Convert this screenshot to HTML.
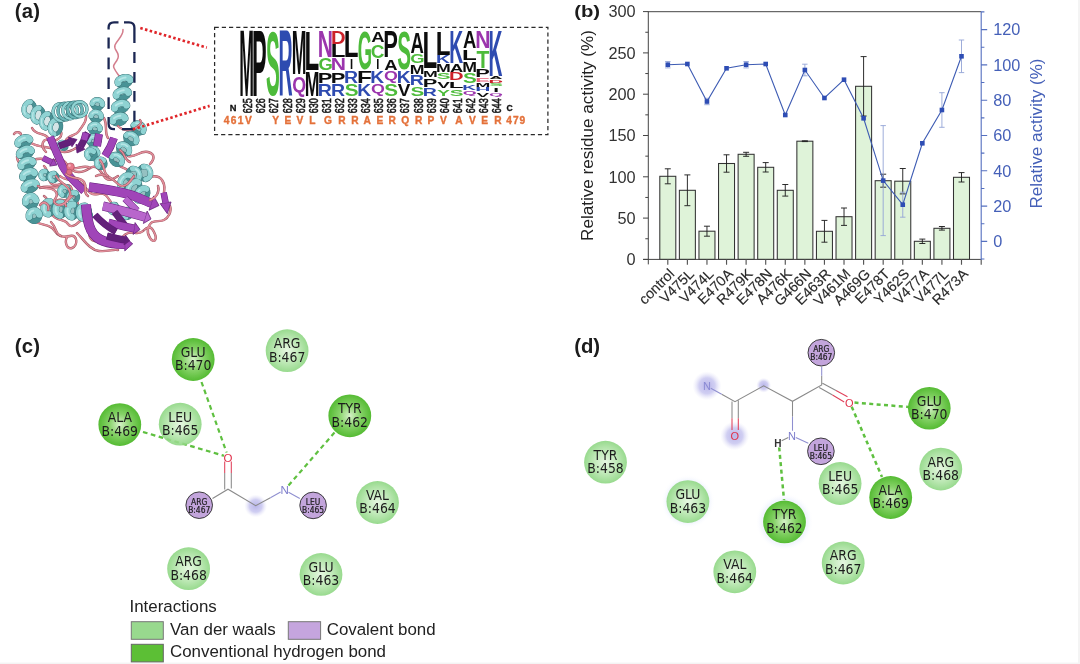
<!DOCTYPE html>
<html lang="en"><head><meta charset="utf-8"><title>Figure</title>
<style>html,body{margin:0;padding:0;background:#f4f4f4;}body{width:1080px;height:664px;overflow:hidden;position:relative}svg{position:absolute;left:0;top:0;display:block}</style></head><body>
<svg width="1080" height="664" viewBox="0 0 1080 664">
<defs>
<radialGradient id="gl"><stop offset="0" stop-color="#e6f7e1"/><stop offset="0.55" stop-color="#bfe9b7"/><stop offset="1" stop-color="#98da8e"/></radialGradient>
<radialGradient id="gd"><stop offset="0" stop-color="#d6f2c8"/><stop offset="0.5" stop-color="#86d268"/><stop offset="1" stop-color="#55bb33"/></radialGradient>
<radialGradient id="bl"><stop offset="0" stop-color="#b8b5e9" stop-opacity="1"/><stop offset="0.55" stop-color="#c8c6f0" stop-opacity="0.85"/><stop offset="1" stop-color="#e6e5f8" stop-opacity="0"/></radialGradient>
<radialGradient id="halo"><stop offset="0" stop-color="#dfe8fb" stop-opacity="0.9"/><stop offset="0.8" stop-color="#eef2fd" stop-opacity="0.7"/><stop offset="1" stop-color="#ffffff" stop-opacity="0"/></radialGradient>
</defs>
<defs><filter id="soft" x="0" y="0" width="1080" height="664" filterUnits="userSpaceOnUse"><feGaussianBlur stdDeviation="0.4"/></filter></defs><g filter="url(#soft)">
<rect x="0" y="0" width="1078" height="662.5" fill="#ffffff"/>
<g id="panel-a"><path d="M123 29.5C123.5 36 117 40 115 45S120 52 118 58S112 64 114 68S117 73 119.5 76.5" stroke="#d47e8d" stroke-width="1.5" fill="none" stroke-linecap="round"/>
<path d="M36 222C44 226 50 224 54 230S62 238 70 236S78 246 72 248S64 240 68 236M77 233C84 240 90 250 99 251S112 249 118 250" stroke="#9a4f5c" stroke-width="2.4" fill="none" stroke-linecap="round" stroke-linejoin="round"/><path d="M36 222C44 226 50 224 54 230S62 238 70 236S78 246 72 248S64 240 68 236M77 233C84 240 90 250 99 251S112 249 118 250" stroke="#e38f9b" stroke-width="1.5" fill="none" stroke-linecap="round" stroke-linejoin="round"/>
<path d="M143 179C150 176 158 174 162 180S164 188 164 193M170 206C172 212 168 218 164 220S154 220 151 223S146 232 150 238S158 240 154 232S146 228 143 231" stroke="#9a4f5c" stroke-width="2.4" fill="none" stroke-linecap="round" stroke-linejoin="round"/><path d="M143 179C150 176 158 174 162 180S164 188 164 193M170 206C172 212 168 218 164 220S154 220 151 223S146 232 150 238S158 240 154 232S146 228 143 231" stroke="#e38f9b" stroke-width="1.5" fill="none" stroke-linecap="round" stroke-linejoin="round"/>
<path d="M14 134C16 131 21 132 21 135M20 150C14 156 18 164 24 166M27 176C30 180 34 178 33 175" stroke="#9a4f5c" stroke-width="2.4" fill="none" stroke-linecap="round" stroke-linejoin="round"/><path d="M14 134C16 131 21 132 21 135M20 150C14 156 18 164 24 166M27 176C30 180 34 178 33 175" stroke="#e38f9b" stroke-width="1.5" fill="none" stroke-linecap="round" stroke-linejoin="round"/>
<path d="M86 116C87 122 82 126 79 131S70 134 66 140M31 143C40 148 48 146 56 150S70 152 76 148" stroke="#9a4f5c" stroke-width="2.4" fill="none" stroke-linecap="round" stroke-linejoin="round"/><path d="M86 116C87 122 82 126 79 131S70 134 66 140M31 143C40 148 48 146 56 150S70 152 76 148" stroke="#e38f9b" stroke-width="1.5" fill="none" stroke-linecap="round" stroke-linejoin="round"/>
<path d="M34 160C42 156 50 162 58 160S66 166 72 170S84 172 90 168S100 170 104 176S112 180 118 176" stroke="#9a4f5c" stroke-width="2.4" fill="none" stroke-linecap="round" stroke-linejoin="round"/><path d="M34 160C42 156 50 162 58 160S66 166 72 170S84 172 90 168S100 170 104 176S112 180 118 176" stroke="#e38f9b" stroke-width="1.5" fill="none" stroke-linecap="round" stroke-linejoin="round"/>
<path d="M40 188C48 184 56 190 64 186S74 192 70 198S58 196 56 202M60 176C66 182 76 178 82 184S90 196 98 194S108 198 112 204" stroke="#9a4f5c" stroke-width="2.4" fill="none" stroke-linecap="round" stroke-linejoin="round"/><path d="M40 188C48 184 56 190 64 186S74 192 70 198S58 196 56 202M60 176C66 182 76 178 82 184S90 196 98 194S108 198 112 204" stroke="#e38f9b" stroke-width="1.5" fill="none" stroke-linecap="round" stroke-linejoin="round"/>
<path d="M104 118C108 126 104 132 108 138M128 156C136 158 140 150 148 152S154 160 150 164M116 162C120 170 128 166 130 174" stroke="#9a4f5c" stroke-width="2.4" fill="none" stroke-linecap="round" stroke-linejoin="round"/><path d="M104 118C108 126 104 132 108 138M128 156C136 158 140 150 148 152S154 160 150 164M116 162C120 170 128 166 130 174" stroke="#e38f9b" stroke-width="1.5" fill="none" stroke-linecap="round" stroke-linejoin="round"/>
<path d="M88 222C92 228 86 236 92 240S104 238 108 244S120 238 126 234S138 236 143 231" stroke="#9a4f5c" stroke-width="2.4" fill="none" stroke-linecap="round" stroke-linejoin="round"/><path d="M88 222C92 228 86 236 92 240S104 238 108 244S120 238 126 234S138 236 143 231" stroke="#e38f9b" stroke-width="1.5" fill="none" stroke-linecap="round" stroke-linejoin="round"/>
<path d="M52 214C56 222 64 218 68 224S80 222 84 216M44 196C50 200 48 208 54 210" stroke="#9a4f5c" stroke-width="2.4" fill="none" stroke-linecap="round" stroke-linejoin="round"/><path d="M52 214C56 222 64 218 68 224S80 222 84 216M44 196C50 200 48 208 54 210" stroke="#e38f9b" stroke-width="1.5" fill="none" stroke-linecap="round" stroke-linejoin="round"/>
<path d="M32 128C36 136 44 132 48 138M60 130C64 136 58 142 50 140S40 146 46 152" stroke="#9a4f5c" stroke-width="2.4" fill="none" stroke-linecap="round" stroke-linejoin="round"/><path d="M32 128C36 136 44 132 48 138M60 130C64 136 58 142 50 140S40 146 46 152" stroke="#e38f9b" stroke-width="1.5" fill="none" stroke-linecap="round" stroke-linejoin="round"/>
<path d="M44 166C50 172 46 180 52 184S62 180 66 186M74 196C80 202 76 210 84 212" stroke="#9a4f5c" stroke-width="2.4" fill="none" stroke-linecap="round" stroke-linejoin="round"/><path d="M44 166C50 172 46 180 52 184S62 180 66 186M74 196C80 202 76 210 84 212" stroke="#e38f9b" stroke-width="1.5" fill="none" stroke-linecap="round" stroke-linejoin="round"/>
<path d="M145.6 172.8L132.4 175.2" stroke="#4f979a" stroke-width="12" stroke-linecap="round" fill="none" opacity="0.6"/>
<path d="M143.34 166.6A6.5 6 259.7 0 0 145.66 179.4M132.34 168.6A6.5 6 259.7 0 0 134.66 181.4" stroke="#356e72" stroke-width="4.6" stroke-linecap="round" fill="none"/>
<path d="M143.34 166.6A6.5 6 259.7 0 0 145.66 179.4M132.34 168.6A6.5 6 259.7 0 0 134.66 181.4" stroke="#4a9396" stroke-width="4" stroke-linecap="round" fill="none"/>
<path d="M143.34 166.6A6.5 6 259.7 0 1 145.66 179.4M132.34 168.6A6.5 6 259.7 0 1 134.66 181.4" stroke="#356e72" stroke-width="5.7" stroke-linecap="round" fill="none"/>
<path d="M143.34 166.6A6.5 6 259.7 0 1 145.66 179.4M132.34 168.6A6.5 6 259.7 0 1 134.66 181.4" stroke="#8fd3d3" stroke-width="5" stroke-linecap="round" fill="none"/>
<path d="M143.34 166.6A6.5 6 259.7 0 1 145.66 179.4M132.34 168.6A6.5 6 259.7 0 1 134.66 181.4" stroke="#c8eeee" stroke-width="1.5" stroke-linecap="round" fill="none" opacity="0.7" stroke-dasharray="7.15 26" stroke-dashoffset="-3.25"/>
<path d="M125.2 180.67L142.8 195.33" stroke="#4f979a" stroke-width="13.4" stroke-linecap="round" fill="none" opacity="0.6"/>
<path d="M121.36 186.9A7.25 5 129.81 0 0 130.64 175.76M129.36 193.57A7.25 5 129.81 0 0 138.64 182.43M137.36 200.24A7.25 5 129.81 0 0 146.64 189.1" stroke="#356e72" stroke-width="5" stroke-linecap="round" fill="none"/>
<path d="M121.36 186.9A7.25 5 129.81 0 0 130.64 175.76M129.36 193.57A7.25 5 129.81 0 0 138.64 182.43M137.36 200.24A7.25 5 129.81 0 0 146.64 189.1" stroke="#4a9396" stroke-width="4.4" stroke-linecap="round" fill="none"/>
<path d="M121.36 186.9A7.25 5 129.81 0 1 130.64 175.76M129.36 193.57A7.25 5 129.81 0 1 138.64 182.43M137.36 200.24A7.25 5 129.81 0 1 146.64 189.1" stroke="#356e72" stroke-width="6.2" stroke-linecap="round" fill="none"/>
<path d="M121.36 186.9A7.25 5 129.81 0 1 130.64 175.76M129.36 193.57A7.25 5 129.81 0 1 138.64 182.43M137.36 200.24A7.25 5 129.81 0 1 146.64 189.1" stroke="#8fd3d3" stroke-width="5.5" stroke-linecap="round" fill="none"/>
<path d="M121.36 186.9A7.25 5 129.81 0 1 130.64 175.76M129.36 193.57A7.25 5 129.81 0 1 138.64 182.43M137.36 200.24A7.25 5 129.81 0 1 146.64 189.1" stroke="#c8eeee" stroke-width="1.65" stroke-linecap="round" fill="none" opacity="0.7" stroke-dasharray="7.98 29" stroke-dashoffset="-3.62"/>
<path d="M112.4 208L128.6 214" stroke="#4f979a" stroke-width="7" stroke-linecap="round" fill="none" opacity="0.6"/>
<path d="M112.36 212.25A4 4 110.32 0 0 115.14 204.75M125.86 217.25A4 4 110.32 0 0 128.64 209.75" stroke="#356e72" stroke-width="4.6" stroke-linecap="round" fill="none"/>
<path d="M112.36 212.25A4 4 110.32 0 0 115.14 204.75M125.86 217.25A4 4 110.32 0 0 128.64 209.75" stroke="#4a9396" stroke-width="4" stroke-linecap="round" fill="none"/>
<path d="M112.36 212.25A4 4 110.32 0 1 115.14 204.75M125.86 217.25A4 4 110.32 0 1 128.64 209.75" stroke="#356e72" stroke-width="5.7" stroke-linecap="round" fill="none"/>
<path d="M112.36 212.25A4 4 110.32 0 1 115.14 204.75M125.86 217.25A4 4 110.32 0 1 128.64 209.75" stroke="#8fd3d3" stroke-width="5" stroke-linecap="round" fill="none"/>
<path d="M112.36 212.25A4 4 110.32 0 1 115.14 204.75M125.86 217.25A4 4 110.32 0 1 128.64 209.75" stroke="#c8eeee" stroke-width="1.5" stroke-linecap="round" fill="none" opacity="0.7" stroke-dasharray="4.4 16" stroke-dashoffset="-2"/>
<path d="M84.6 214.4L87.4 215.6" stroke="#4f979a" stroke-width="7" stroke-linecap="round" fill="none" opacity="0.6"/>
<path d="M84.42 218.68A4 5 113.2 0 0 87.58 211.32" stroke="#356e72" stroke-width="4.6" stroke-linecap="round" fill="none"/>
<path d="M84.42 218.68A4 5 113.2 0 0 87.58 211.32" stroke="#4a9396" stroke-width="4" stroke-linecap="round" fill="none"/>
<path d="M84.42 218.68A4 5 113.2 0 1 87.58 211.32" stroke="#356e72" stroke-width="5.7" stroke-linecap="round" fill="none"/>
<path d="M84.42 218.68A4 5 113.2 0 1 87.58 211.32" stroke="#8fd3d3" stroke-width="5" stroke-linecap="round" fill="none"/>
<path d="M84.42 218.68A4 5 113.2 0 1 87.58 211.32" stroke="#c8eeee" stroke-width="1.5" stroke-linecap="round" fill="none" opacity="0.7" stroke-dasharray="4.4 16" stroke-dashoffset="-2"/>
<path d="M97.52 102.88L92.48 154.12" stroke="#4f979a" stroke-width="9" stroke-linecap="round" fill="none" opacity="0.6"/>
<path d="M92.42 103.61A5 4.2 185.62 0 0 102.38 104.59M91.22 115.81A5 4.2 185.62 0 0 101.18 116.79M90.02 128.01A5 4.2 185.62 0 0 99.98 128.99M88.82 140.21A5 4.2 185.62 0 0 98.78 141.19M87.62 152.41A5 4.2 185.62 0 0 97.58 153.39" stroke="#356e72" stroke-width="4.6" stroke-linecap="round" fill="none"/>
<path d="M92.42 103.61A5 4.2 185.62 0 0 102.38 104.59M91.22 115.81A5 4.2 185.62 0 0 101.18 116.79M90.02 128.01A5 4.2 185.62 0 0 99.98 128.99M88.82 140.21A5 4.2 185.62 0 0 98.78 141.19M87.62 152.41A5 4.2 185.62 0 0 97.58 153.39" stroke="#4a9396" stroke-width="4" stroke-linecap="round" fill="none"/>
<path d="M92.42 103.61A5 4.2 185.62 0 1 102.38 104.59M91.22 115.81A5 4.2 185.62 0 1 101.18 116.79M90.02 128.01A5 4.2 185.62 0 1 99.98 128.99M88.82 140.21A5 4.2 185.62 0 1 98.78 141.19M87.62 152.41A5 4.2 185.62 0 1 97.58 153.39" stroke="#356e72" stroke-width="5.7" stroke-linecap="round" fill="none"/>
<path d="M92.42 103.61A5 4.2 185.62 0 1 102.38 104.59M91.22 115.81A5 4.2 185.62 0 1 101.18 116.79M90.02 128.01A5 4.2 185.62 0 1 99.98 128.99M88.82 140.21A5 4.2 185.62 0 1 98.78 141.19M87.62 152.41A5 4.2 185.62 0 1 97.58 153.39" stroke="#8fd3d3" stroke-width="5" stroke-linecap="round" fill="none"/>
<path d="M92.42 103.61A5 4.2 185.62 0 1 102.38 104.59M91.22 115.81A5 4.2 185.62 0 1 101.18 116.79M90.02 128.01A5 4.2 185.62 0 1 99.98 128.99M88.82 140.21A5 4.2 185.62 0 1 98.78 141.19M87.62 152.41A5 4.2 185.62 0 1 97.58 153.39" stroke="#c8eeee" stroke-width="1.5" stroke-linecap="round" fill="none" opacity="0.7" stroke-dasharray="5.5 20" stroke-dashoffset="-2.5"/>
<path d="M139.1 127.2L115.9 160.8" stroke="#4f979a" stroke-width="10.76" stroke-linecap="round" fill="none" opacity="0.6"/>
<path d="M133.52 124.9A5.9 4.6 214.62 0 0 143.23 131.6M126.27 135.4A5.9 4.6 214.62 0 0 135.98 142.1M119.02 145.9A5.9 4.6 214.62 0 0 128.73 152.6M111.77 156.4A5.9 4.6 214.62 0 0 121.48 163.1" stroke="#356e72" stroke-width="4.76" stroke-linecap="round" fill="none"/>
<path d="M133.52 124.9A5.9 4.6 214.62 0 0 143.23 131.6M126.27 135.4A5.9 4.6 214.62 0 0 135.98 142.1M119.02 145.9A5.9 4.6 214.62 0 0 128.73 152.6M111.77 156.4A5.9 4.6 214.62 0 0 121.48 163.1" stroke="#4a9396" stroke-width="4.16" stroke-linecap="round" fill="none"/>
<path d="M133.52 124.9A5.9 4.6 214.62 0 1 143.23 131.6M126.27 135.4A5.9 4.6 214.62 0 1 135.98 142.1M119.02 145.9A5.9 4.6 214.62 0 1 128.73 152.6M111.77 156.4A5.9 4.6 214.62 0 1 121.48 163.1" stroke="#356e72" stroke-width="5.9" stroke-linecap="round" fill="none"/>
<path d="M133.52 124.9A5.9 4.6 214.62 0 1 143.23 131.6M126.27 135.4A5.9 4.6 214.62 0 1 135.98 142.1M119.02 145.9A5.9 4.6 214.62 0 1 128.73 152.6M111.77 156.4A5.9 4.6 214.62 0 1 121.48 163.1" stroke="#8fd3d3" stroke-width="5.2" stroke-linecap="round" fill="none"/>
<path d="M133.52 124.9A5.9 4.6 214.62 0 1 143.23 131.6M126.27 135.4A5.9 4.6 214.62 0 1 135.98 142.1M119.02 145.9A5.9 4.6 214.62 0 1 128.73 152.6M111.77 156.4A5.9 4.6 214.62 0 1 121.48 163.1" stroke="#c8eeee" stroke-width="1.56" stroke-linecap="round" fill="none" opacity="0.7" stroke-dasharray="6.49 23.6" stroke-dashoffset="-2.95"/>
<path d="M63.6 190.4L74.4 197.6" stroke="#4f979a" stroke-width="8" stroke-linecap="round" fill="none" opacity="0.6"/>
<path d="M62 194.74A4.5 4.5 123.69 0 0 67 187.26M71 200.74A4.5 4.5 123.69 0 0 76 193.26" stroke="#356e72" stroke-width="4.6" stroke-linecap="round" fill="none"/>
<path d="M62 194.74A4.5 4.5 123.69 0 0 67 187.26M71 200.74A4.5 4.5 123.69 0 0 76 193.26" stroke="#4a9396" stroke-width="4" stroke-linecap="round" fill="none"/>
<path d="M62 194.74A4.5 4.5 123.69 0 1 67 187.26M71 200.74A4.5 4.5 123.69 0 1 76 193.26" stroke="#356e72" stroke-width="5.7" stroke-linecap="round" fill="none"/>
<path d="M62 194.74A4.5 4.5 123.69 0 1 67 187.26M71 200.74A4.5 4.5 123.69 0 1 76 193.26" stroke="#8fd3d3" stroke-width="5" stroke-linecap="round" fill="none"/>
<path d="M62 194.74A4.5 4.5 123.69 0 1 67 187.26M71 200.74A4.5 4.5 123.69 0 1 76 193.26" stroke="#c8eeee" stroke-width="1.5" stroke-linecap="round" fill="none" opacity="0.7" stroke-dasharray="4.95 18" stroke-dashoffset="-2.25"/>
<path d="M47.7 207.6L85.3 212.4" stroke="#4f979a" stroke-width="11.2" stroke-linecap="round" fill="none" opacity="0.6"/>
<path d="M48.08 213.95A6.25 5 97.28 0 0 49.67 201.55M59.83 215.45A6.25 5 97.28 0 0 61.42 203.05M71.58 216.95A6.25 5 97.28 0 0 73.17 204.55M83.33 218.45A6.25 5 97.28 0 0 84.92 206.05" stroke="#356e72" stroke-width="5.8" stroke-linecap="round" fill="none"/>
<path d="M48.08 213.95A6.25 5 97.28 0 0 49.67 201.55M59.83 215.45A6.25 5 97.28 0 0 61.42 203.05M71.58 216.95A6.25 5 97.28 0 0 73.17 204.55M83.33 218.45A6.25 5 97.28 0 0 84.92 206.05" stroke="#4a9396" stroke-width="5.2" stroke-linecap="round" fill="none"/>
<path d="M48.08 213.95A6.25 5 97.28 0 1 49.67 201.55M59.83 215.45A6.25 5 97.28 0 1 61.42 203.05M71.58 216.95A6.25 5 97.28 0 1 73.17 204.55M83.33 218.45A6.25 5 97.28 0 1 84.92 206.05" stroke="#356e72" stroke-width="7.2" stroke-linecap="round" fill="none"/>
<path d="M48.08 213.95A6.25 5 97.28 0 1 49.67 201.55M59.83 215.45A6.25 5 97.28 0 1 61.42 203.05M71.58 216.95A6.25 5 97.28 0 1 73.17 204.55M83.33 218.45A6.25 5 97.28 0 1 84.92 206.05" stroke="#8fd3d3" stroke-width="6.5" stroke-linecap="round" fill="none"/>
<path d="M48.08 213.95A6.25 5 97.28 0 1 49.67 201.55M59.83 215.45A6.25 5 97.28 0 1 61.42 203.05M71.58 216.95A6.25 5 97.28 0 1 73.17 204.55M83.33 218.45A6.25 5 97.28 0 1 84.92 206.05" stroke="#c8eeee" stroke-width="1.95" stroke-linecap="round" fill="none" opacity="0.7" stroke-dasharray="6.88 25" stroke-dashoffset="-3.12"/>
<path d="M30.4 199.8L34.6 217.2" stroke="#4f979a" stroke-width="9.2" stroke-linecap="round" fill="none" opacity="0.6"/>
<path d="M25.65 202.48A5.25 5.5 166.43 0 0 35.85 200.02M29.15 216.98A5.25 5.5 166.43 0 0 39.35 214.52" stroke="#356e72" stroke-width="5.8" stroke-linecap="round" fill="none"/>
<path d="M25.65 202.48A5.25 5.5 166.43 0 0 35.85 200.02M29.15 216.98A5.25 5.5 166.43 0 0 39.35 214.52" stroke="#4a9396" stroke-width="5.2" stroke-linecap="round" fill="none"/>
<path d="M25.65 202.48A5.25 5.5 166.43 0 1 35.85 200.02M29.15 216.98A5.25 5.5 166.43 0 1 39.35 214.52" stroke="#356e72" stroke-width="7.2" stroke-linecap="round" fill="none"/>
<path d="M25.65 202.48A5.25 5.5 166.43 0 1 35.85 200.02M29.15 216.98A5.25 5.5 166.43 0 1 39.35 214.52" stroke="#8fd3d3" stroke-width="6.5" stroke-linecap="round" fill="none"/>
<path d="M25.65 202.48A5.25 5.5 166.43 0 1 35.85 200.02M29.15 216.98A5.25 5.5 166.43 0 1 39.35 214.52" stroke="#c8eeee" stroke-width="1.95" stroke-linecap="round" fill="none" opacity="0.7" stroke-dasharray="5.78 21" stroke-dashoffset="-2.62"/>
<path d="M43.6 174.8L54.4 177.2" stroke="#4f979a" stroke-width="6.6" stroke-linecap="round" fill="none" opacity="0.6"/>
<path d="M43.69 178.66A3.75 4 102.53 0 0 45.31 171.34M52.69 180.66A3.75 4 102.53 0 0 54.31 173.34" stroke="#356e72" stroke-width="4.2" stroke-linecap="round" fill="none"/>
<path d="M43.69 178.66A3.75 4 102.53 0 0 45.31 171.34M52.69 180.66A3.75 4 102.53 0 0 54.31 173.34" stroke="#4a9396" stroke-width="3.6" stroke-linecap="round" fill="none"/>
<path d="M43.69 178.66A3.75 4 102.53 0 1 45.31 171.34M52.69 180.66A3.75 4 102.53 0 1 54.31 173.34" stroke="#356e72" stroke-width="5.2" stroke-linecap="round" fill="none"/>
<path d="M43.69 178.66A3.75 4 102.53 0 1 45.31 171.34M52.69 180.66A3.75 4 102.53 0 1 54.31 173.34" stroke="#8fd3d3" stroke-width="4.5" stroke-linecap="round" fill="none"/>
<path d="M43.69 178.66A3.75 4 102.53 0 1 45.31 171.34M52.69 180.66A3.75 4 102.53 0 1 54.31 173.34" stroke="#c8eeee" stroke-width="1.35" stroke-linecap="round" fill="none" opacity="0.7" stroke-dasharray="4.12 15" stroke-dashoffset="-1.88"/>
<path d="M62 144.6L64 146.4" stroke="#4f979a" stroke-width="5.2" stroke-linecap="round" fill="none" opacity="0.6"/>
<path d="M60.99 147.73A3 4 131.99 0 0 65.01 143.27" stroke="#356e72" stroke-width="3.8" stroke-linecap="round" fill="none"/>
<path d="M60.99 147.73A3 4 131.99 0 0 65.01 143.27" stroke="#4a9396" stroke-width="3.2" stroke-linecap="round" fill="none"/>
<path d="M60.99 147.73A3 4 131.99 0 1 65.01 143.27" stroke="#356e72" stroke-width="4.7" stroke-linecap="round" fill="none"/>
<path d="M60.99 147.73A3 4 131.99 0 1 65.01 143.27" stroke="#8fd3d3" stroke-width="4" stroke-linecap="round" fill="none"/>
<path d="M60.99 147.73A3 4 131.99 0 1 65.01 143.27" stroke="#c8eeee" stroke-width="1.2" stroke-linecap="round" fill="none" opacity="0.7" stroke-dasharray="3.3 12" stroke-dashoffset="-1.5"/>
<path d="M90 153.6L102 164.4" stroke="#4f979a" stroke-width="7" stroke-linecap="round" fill="none" opacity="0.6"/>
<path d="M88.32 157.47A4 4.5 131.99 0 0 93.68 151.53M98.32 166.47A4 4.5 131.99 0 0 103.68 160.53" stroke="#356e72" stroke-width="4.6" stroke-linecap="round" fill="none"/>
<path d="M88.32 157.47A4 4.5 131.99 0 0 93.68 151.53M98.32 166.47A4 4.5 131.99 0 0 103.68 160.53" stroke="#4a9396" stroke-width="4" stroke-linecap="round" fill="none"/>
<path d="M88.32 157.47A4 4.5 131.99 0 1 93.68 151.53M98.32 166.47A4 4.5 131.99 0 1 103.68 160.53" stroke="#356e72" stroke-width="5.7" stroke-linecap="round" fill="none"/>
<path d="M88.32 157.47A4 4.5 131.99 0 1 93.68 151.53M98.32 166.47A4 4.5 131.99 0 1 103.68 160.53" stroke="#8fd3d3" stroke-width="5" stroke-linecap="round" fill="none"/>
<path d="M88.32 157.47A4 4.5 131.99 0 1 93.68 151.53M98.32 166.47A4 4.5 131.99 0 1 103.68 160.53" stroke="#c8eeee" stroke-width="1.5" stroke-linecap="round" fill="none" opacity="0.7" stroke-dasharray="4.4 16" stroke-dashoffset="-2"/>
<path d="M23.64 140.48L30.36 187.52" stroke="#4f979a" stroke-width="11.08" stroke-linecap="round" fill="none" opacity="0.6"/>
<path d="M17.98 143.73A6.2 3.6 159.87 0 0 29.62 139.47M19.58 154.93A6.2 3.6 159.87 0 0 31.22 150.67M21.18 166.13A6.2 3.6 159.87 0 0 32.82 161.87M22.78 177.33A6.2 3.6 159.87 0 0 34.42 173.07M24.38 188.53A6.2 3.6 159.87 0 0 36.02 184.27" stroke="#356e72" stroke-width="5.88" stroke-linecap="round" fill="none"/>
<path d="M17.98 143.73A6.2 3.6 159.87 0 0 29.62 139.47M19.58 154.93A6.2 3.6 159.87 0 0 31.22 150.67M21.18 166.13A6.2 3.6 159.87 0 0 32.82 161.87M22.78 177.33A6.2 3.6 159.87 0 0 34.42 173.07M24.38 188.53A6.2 3.6 159.87 0 0 36.02 184.27" stroke="#4a9396" stroke-width="5.28" stroke-linecap="round" fill="none"/>
<path d="M17.98 143.73A6.2 3.6 159.87 0 1 29.62 139.47M19.58 154.93A6.2 3.6 159.87 0 1 31.22 150.67M21.18 166.13A6.2 3.6 159.87 0 1 32.82 161.87M22.78 177.33A6.2 3.6 159.87 0 1 34.42 173.07M24.38 188.53A6.2 3.6 159.87 0 1 36.02 184.27" stroke="#356e72" stroke-width="7.3" stroke-linecap="round" fill="none"/>
<path d="M17.98 143.73A6.2 3.6 159.87 0 1 29.62 139.47M19.58 154.93A6.2 3.6 159.87 0 1 31.22 150.67M21.18 166.13A6.2 3.6 159.87 0 1 32.82 161.87M22.78 177.33A6.2 3.6 159.87 0 1 34.42 173.07M24.38 188.53A6.2 3.6 159.87 0 1 36.02 184.27" stroke="#8fd3d3" stroke-width="6.6" stroke-linecap="round" fill="none"/>
<path d="M17.98 143.73A6.2 3.6 159.87 0 1 29.62 139.47M19.58 154.93A6.2 3.6 159.87 0 1 31.22 150.67M21.18 166.13A6.2 3.6 159.87 0 1 32.82 161.87M22.78 177.33A6.2 3.6 159.87 0 1 34.42 173.07M24.38 188.53A6.2 3.6 159.87 0 1 36.02 184.27" stroke="#c8eeee" stroke-width="1.98" stroke-linecap="round" fill="none" opacity="0.7" stroke-dasharray="6.82 24.8" stroke-dashoffset="-3.1"/>
<path d="M28.5 108.4L56.5 127.6" stroke="#4f979a" stroke-width="13.48" stroke-linecap="round" fill="none" opacity="0.25"/>
<path d="M28.07 116.08A7.2 5.5 100.44 0 0 30.68 101.92M36.82 122.08A7.2 5.5 100.44 0 0 39.43 107.92M45.57 128.08A7.2 5.5 100.44 0 0 48.18 113.92M54.32 134.08A7.2 5.5 100.44 0 0 56.93 119.92" stroke="#356e72" stroke-width="4.28" stroke-linecap="round" fill="none"/>
<path d="M28.07 116.08A7.2 5.5 100.44 0 0 30.68 101.92M36.82 122.08A7.2 5.5 100.44 0 0 39.43 107.92M45.57 128.08A7.2 5.5 100.44 0 0 48.18 113.92M54.32 134.08A7.2 5.5 100.44 0 0 56.93 119.92" stroke="#4a9396" stroke-width="3.68" stroke-linecap="round" fill="none"/>
<path d="M28.07 116.08A7.2 5.5 100.44 0 1 30.68 101.92M36.82 122.08A7.2 5.5 100.44 0 1 39.43 107.92M45.57 128.08A7.2 5.5 100.44 0 1 48.18 113.92M54.32 134.08A7.2 5.5 100.44 0 1 56.93 119.92" stroke="#356e72" stroke-width="5.3" stroke-linecap="round" fill="none"/>
<path d="M28.07 116.08A7.2 5.5 100.44 0 1 30.68 101.92M36.82 122.08A7.2 5.5 100.44 0 1 39.43 107.92M45.57 128.08A7.2 5.5 100.44 0 1 48.18 113.92M54.32 134.08A7.2 5.5 100.44 0 1 56.93 119.92" stroke="#8fd3d3" stroke-width="4.6" stroke-linecap="round" fill="none"/>
<path d="M28.07 116.08A7.2 5.5 100.44 0 1 30.68 101.92M36.82 122.08A7.2 5.5 100.44 0 1 39.43 107.92M45.57 128.08A7.2 5.5 100.44 0 1 48.18 113.92M54.32 134.08A7.2 5.5 100.44 0 1 56.93 119.92" stroke="#c8eeee" stroke-width="1.38" stroke-linecap="round" fill="none" opacity="0.7" stroke-dasharray="7.92 28.8" stroke-dashoffset="-3.6"/>
<ellipse cx="60.5" cy="112.3" rx="7.3" ry="8.6" transform="rotate(-15 60.5 112.3)" fill="none" stroke="#356e72" stroke-width="3.4"/><ellipse cx="60.5" cy="112.3" rx="7.3" ry="8.6" transform="rotate(-15 60.5 112.3)" fill="none" stroke="#8fd3d3" stroke-width="2.5"/>
<ellipse cx="65.3" cy="111.5" rx="7.3" ry="8.3" transform="rotate(-15 65.3 111.5)" fill="none" stroke="#356e72" stroke-width="3.4"/><ellipse cx="65.3" cy="111.5" rx="7.3" ry="8.3" transform="rotate(-15 65.3 111.5)" fill="none" stroke="#6ab6b8" stroke-width="2.5"/>
<ellipse cx="70.1" cy="110.7" rx="7.3" ry="8" transform="rotate(-15 70.1 110.7)" fill="none" stroke="#356e72" stroke-width="3.4"/><ellipse cx="70.1" cy="110.7" rx="7.3" ry="8" transform="rotate(-15 70.1 110.7)" fill="none" stroke="#8fd3d3" stroke-width="2.5"/>
<ellipse cx="74.9" cy="109.9" rx="7.3" ry="7.7" transform="rotate(-15 74.9 109.9)" fill="none" stroke="#356e72" stroke-width="3.4"/><ellipse cx="74.9" cy="109.9" rx="7.3" ry="7.7" transform="rotate(-15 74.9 109.9)" fill="none" stroke="#6ab6b8" stroke-width="2.5"/>
<ellipse cx="79.7" cy="109.1" rx="7.3" ry="7.4" transform="rotate(-15 79.7 109.1)" fill="none" stroke="#356e72" stroke-width="3.4"/><ellipse cx="79.7" cy="109.1" rx="7.3" ry="7.4" transform="rotate(-15 79.7 109.1)" fill="none" stroke="#8fd3d3" stroke-width="2.5"/>
<path d="M124.3 80.1L118.7 120.9" stroke="#4f979a" stroke-width="11.08" stroke-linecap="round" fill="none" opacity="0.6"/>
<path d="M118.11 82.89A6.2 3.6 165.82 0 0 130.14 79.86M116.36 95.64A6.2 3.6 165.82 0 0 128.39 92.61M114.61 108.39A6.2 3.6 165.82 0 0 126.64 105.36M112.86 121.14A6.2 3.6 165.82 0 0 124.89 118.11" stroke="#356e72" stroke-width="5.88" stroke-linecap="round" fill="none"/>
<path d="M118.11 82.89A6.2 3.6 165.82 0 0 130.14 79.86M116.36 95.64A6.2 3.6 165.82 0 0 128.39 92.61M114.61 108.39A6.2 3.6 165.82 0 0 126.64 105.36M112.86 121.14A6.2 3.6 165.82 0 0 124.89 118.11" stroke="#4a9396" stroke-width="5.28" stroke-linecap="round" fill="none"/>
<path d="M118.11 82.89A6.2 3.6 165.82 0 1 130.14 79.86M116.36 95.64A6.2 3.6 165.82 0 1 128.39 92.61M114.61 108.39A6.2 3.6 165.82 0 1 126.64 105.36M112.86 121.14A6.2 3.6 165.82 0 1 124.89 118.11" stroke="#356e72" stroke-width="7.3" stroke-linecap="round" fill="none"/>
<path d="M118.11 82.89A6.2 3.6 165.82 0 1 130.14 79.86M116.36 95.64A6.2 3.6 165.82 0 1 128.39 92.61M114.61 108.39A6.2 3.6 165.82 0 1 126.64 105.36M112.86 121.14A6.2 3.6 165.82 0 1 124.89 118.11" stroke="#8fd3d3" stroke-width="6.6" stroke-linecap="round" fill="none"/>
<path d="M118.11 82.89A6.2 3.6 165.82 0 1 130.14 79.86M116.36 95.64A6.2 3.6 165.82 0 1 128.39 92.61M114.61 108.39A6.2 3.6 165.82 0 1 126.64 105.36M112.86 121.14A6.2 3.6 165.82 0 1 124.89 118.11" stroke="#c8eeee" stroke-width="1.98" stroke-linecap="round" fill="none" opacity="0.7" stroke-dasharray="6.82 24.8" stroke-dashoffset="-3.1"/>
<path d="M50 137Q58 156 62 165Q66 174 84 191" stroke="#64207a" stroke-width="8" fill="none" stroke-linejoin="round"/>
<path d="M50 137Q58 156 62 165Q66 174 84 191" stroke="#a044b8" stroke-width="7" fill="none" stroke-linejoin="round"/>
<path d="M59 146 L70.23 141.95" stroke="#64207a" stroke-width="7" fill="none" stroke-linejoin="round"/>
<path d="M71.96 146.74L77 139.5L68.5 137.15Z" fill="#64207a" stroke="#64207a" stroke-width="0.8" stroke-linejoin="round"/>
<path d="M59 146 L70.23 141.95" stroke="#64207a" stroke-width="6" fill="none" stroke-linejoin="round"/>
<path d="M88 133 L80.47 146.69" stroke="#64207a" stroke-width="7" fill="none" stroke-linejoin="round"/>
<path d="M76 144.23L77 153L84.94 149.15Z" fill="#64207a" stroke="#64207a" stroke-width="0.8" stroke-linejoin="round"/>
<path d="M88 133 L80.47 146.69" stroke="#64207a" stroke-width="6" fill="none" stroke-linejoin="round"/>
<path d="M43 158 L51.63 162.32" stroke="#64207a" stroke-width="6" fill="none" stroke-linejoin="round"/>
<path d="M49.73 166.12L57 165L53.53 158.52Z" fill="#a044b8" stroke="#64207a" stroke-width="0.8" stroke-linejoin="round"/>
<path d="M43 158 L51.63 162.32" stroke="#a044b8" stroke-width="5" fill="none" stroke-linejoin="round"/>
<path d="M99 134 L97 146" stroke="#64207a" stroke-width="8" fill="none" stroke-linejoin="round"/>
<path d="M99 134 L97 146" stroke="#a044b8" stroke-width="7" fill="none" stroke-linejoin="round"/>
<path d="M114 138Q111 147 105 156" stroke="#64207a" stroke-width="8" fill="none" stroke-linejoin="round"/>
<path d="M114 138Q111 147 105 156" stroke="#a044b8" stroke-width="7" fill="none" stroke-linejoin="round"/>
<path d="M86 133 L84 140" stroke="#64207a" stroke-width="7" fill="none" stroke-linejoin="round"/>
<path d="M86 133 L84 140" stroke="#a044b8" stroke-width="6" fill="none" stroke-linejoin="round"/>
<path d="M89 187Q125 192 136.5 197Q148 202 151.38 203.07" stroke="#64207a" stroke-width="9.5" fill="none" stroke-linejoin="round"/>
<path d="M149.1 210.22L159 205.5L153.65 195.93Z" fill="#a044b8" stroke="#64207a" stroke-width="0.8" stroke-linejoin="round"/>
<path d="M89 187Q125 192 136.5 197Q148 202 151.38 203.07" stroke="#a044b8" stroke-width="8.5" fill="none" stroke-linejoin="round"/>
<path d="M125 198.6 L137 210.7" stroke="#64207a" stroke-width="7" fill="none" stroke-linejoin="round"/>
<path d="M125 198.6 L137 210.7" stroke="#b866cc" stroke-width="6" fill="none" stroke-linejoin="round"/>
<path d="M103 206Q128 212 145.26 217.25" stroke="#64207a" stroke-width="9" fill="none" stroke-linejoin="round"/>
<path d="M143.37 223.47L151 219L147.15 211.03Z" fill="#b866cc" stroke="#64207a" stroke-width="0.8" stroke-linejoin="round"/>
<path d="M103 206Q128 212 145.26 217.25" stroke="#b866cc" stroke-width="8" fill="none" stroke-linejoin="round"/>
<path d="M114.6 212 L125 225.7" stroke="#64207a" stroke-width="7" fill="none" stroke-linejoin="round"/>
<path d="M114.6 212 L125 225.7" stroke="#64207a" stroke-width="6" fill="none" stroke-linejoin="round"/>
<path d="M108.6 222.7Q125 227 134.08 228.51" stroke="#64207a" stroke-width="8" fill="none" stroke-linejoin="round"/>
<path d="M133.1 234.43L140 229.5L135.07 222.6Z" fill="#a044b8" stroke="#64207a" stroke-width="0.8" stroke-linejoin="round"/>
<path d="M108.6 222.7Q125 227 134.08 228.51" stroke="#a044b8" stroke-width="7" fill="none" stroke-linejoin="round"/>
<path d="M95 215Q104 225 116 231.7" stroke="#64207a" stroke-width="7" fill="none" stroke-linejoin="round"/>
<path d="M95 215Q104 225 116 231.7" stroke="#64207a" stroke-width="6" fill="none" stroke-linejoin="round"/>
<path d="M86 204.6Q87 222 91 230Q95 238 103.5 241Q112 244 124.7 243.88" stroke="#64207a" stroke-width="10" fill="none" stroke-linejoin="round"/>
<path d="M124.77 250.88L132.7 243.8L124.63 236.88Z" fill="#a044b8" stroke="#64207a" stroke-width="0.8" stroke-linejoin="round"/>
<path d="M86 204.6Q87 222 91 230Q95 238 103.5 241Q112 244 124.7 243.88" stroke="#a044b8" stroke-width="9" fill="none" stroke-linejoin="round"/>
<path d="M107 236Q118 239 124.76 240.04" stroke="#64207a" stroke-width="7" fill="none" stroke-linejoin="round"/>
<path d="M124 244.98L129.7 240.8L125.52 235.1Z" fill="#64207a" stroke="#64207a" stroke-width="0.8" stroke-linejoin="round"/>
<path d="M107 236Q118 239 124.76 240.04" stroke="#64207a" stroke-width="6" fill="none" stroke-linejoin="round"/>
<path d="M163.6 192.6Q165.5 202 165.63 202.83" stroke="#64207a" stroke-width="6.5" fill="none" stroke-linejoin="round"/>
<path d="M160.19 203.66L167.3 213.7L171.06 201.99Z" fill="#a044b8" stroke="#64207a" stroke-width="0.8" stroke-linejoin="round"/>
<path d="M163.6 192.6Q165.5 202 165.63 202.83" stroke="#a044b8" stroke-width="5.5" fill="none" stroke-linejoin="round"/>
<path d="M118 126C124 132 132 131 137 127S142 122 140 120" stroke="#9a4f5c" stroke-width="2.2" fill="none" stroke-linecap="round" stroke-linejoin="round"/><path d="M118 126C124 132 132 131 137 127S142 122 140 120" stroke="#e38f9b" stroke-width="1.3" fill="none" stroke-linecap="round" stroke-linejoin="round"/>
<path d="M66 174C72 180 80 176 84 182S82 192 88 196M70 168C78 170 84 164 90 168" stroke="#9a4f5c" stroke-width="2.4" fill="none" stroke-linecap="round" stroke-linejoin="round"/><path d="M66 174C72 180 80 176 84 182S82 192 88 196M70 168C78 170 84 164 90 168" stroke="#e38f9b" stroke-width="1.5" fill="none" stroke-linecap="round" stroke-linejoin="round"/>
<path d="M96 176C104 172 112 178 118 184S130 182 134 176M150 200C156 198 160 192 158 186" stroke="#9a4f5c" stroke-width="2.4" fill="none" stroke-linecap="round" stroke-linejoin="round"/><path d="M96 176C104 172 112 178 118 184S130 182 134 176M150 200C156 198 160 192 158 186" stroke="#e38f9b" stroke-width="1.5" fill="none" stroke-linecap="round" stroke-linejoin="round"/>
<path d="M38 186C44 190 52 186 56 192S50 200 56 204S68 200 72 196M56 176C60 184 68 184 70 192S62 200 66 206" stroke="#9a4f5c" stroke-width="2.4" fill="none" stroke-linecap="round" stroke-linejoin="round"/><path d="M38 186C44 190 52 186 56 192S50 200 56 204S68 200 72 196M56 176C60 184 68 184 70 192S62 200 66 206" stroke="#e38f9b" stroke-width="1.5" fill="none" stroke-linecap="round" stroke-linejoin="round"/>
<path d="M51 222C57 228 55 234 61 236M40 205C44 200 50 204 48 210M100 160C106 166 102 172 108 176M120 150C126 154 124 160 130 162" stroke="#9a4f5c" stroke-width="2.4" fill="none" stroke-linecap="round" stroke-linejoin="round"/><path d="M51 222C57 228 55 234 61 236M40 205C44 200 50 204 48 210M100 160C106 166 102 172 108 176M120 150C126 154 124 160 130 162" stroke="#e38f9b" stroke-width="1.5" fill="none" stroke-linecap="round" stroke-linejoin="round"/>
<circle cx="70.5" cy="166.8" r="3.9" fill="#e8788a" stroke="#a04858" stroke-width="0.6"/><circle cx="69.5" cy="165.6" r="1.3" fill="#f6b4be"/>
<circle cx="69.3" cy="172" r="2.9" fill="#dc6e80" stroke="#a04858" stroke-width="0.5"/>
<path d="M108.6 29.5V27.6Q108.6 22.3 114 22.3H118.5M124 22.3H129Q134.4 22.3 134.4 27.7V43M134.4 52V63M134.4 72V82.8M134.4 91V101.8M134.4 110.8V121.6M108.6 37.6V48.4M108.6 57.5V69.2M108.6 77.4V89.1M108.6 97.2V109M108.6 117.1V123.8Q108.6 129.2 114 129.2H115M122 129.2H134" stroke="#1b2852" stroke-width="2.3" fill="none"/>
<path d="M140.3 28L206.8 47.6M132.8 129.4L209.6 105.9" stroke="#e0262a" stroke-width="2.7" stroke-dasharray="2.5 2.4" fill="none"/><rect x="214.6" y="27.3" width="333.3" height="107.3" fill="none" stroke="#2a2a2a" stroke-width="1.25" stroke-dasharray="4.2 3"/>
<g font-family="'Liberation Sans', Arial, sans-serif" font-weight="bold" font-size="100">
<text transform="matrix(0.1773 0 0 0.9363 239.16 95.99)" fill="#111111">M</text>
<text transform="matrix(0.2191 0 0 0.9363 252.01 95.99)" fill="#111111">P</text>
<text transform="matrix(0.2070 0 0 0.9098 266.01 95.1)" fill="#4dbb3a">S</text>
<text transform="matrix(0.1953 0 0 0.9363 278.43 95.99)" fill="#2f4bb0">R</text>
<text transform="matrix(0.1773 0 0 0.6237 291.68 74.48)" fill="#111111">M</text>
<text transform="matrix(0.1785 0 0 0.2254 292.14 91.55)" fill="#9b35ad">Q</text>
<text transform="matrix(0.2416 0 0 0.5540 304.38 69.69)" fill="#111111">L</text>
<text transform="matrix(0.1773 0 0 0.3531 304.81 95.99)" fill="#111111">M</text>
<text transform="matrix(0.2109 0 0 0.3726 317.72 57.2)" fill="#9b35ad">N</text>
<text transform="matrix(0.1838 0 0 0.1653 318.38 69.86)" fill="#4dbb3a">G</text>
<text transform="matrix(0.2191 0 0 0.1539 317.66 82.84)" fill="#111111">P</text>
<text transform="matrix(0.1953 0 0 0.1587 317.82 95.99)" fill="#2f4bb0">R</text>
<text transform="matrix(0.2022 0 0 0.1782 330.91 43.83)" fill="#cc2229">D</text>
<text transform="matrix(0.2416 0 0 0.1782 330.64 57.2)" fill="#111111">L</text>
<text transform="matrix(0.2109 0 0 0.1668 330.85 70.02)" fill="#9b35ad">N</text>
<text transform="matrix(0.2191 0 0 0.1539 330.79 82.84)" fill="#111111">P</text>
<text transform="matrix(0.1953 0 0 0.1587 330.95 95.99)" fill="#2f4bb0">R</text>
<text transform="matrix(0.2416 0 0 0.3693 343.77 56.98)" fill="#111111">L</text>
<text transform="matrix(0.1111 0 0 0.1458 350.05 69.46)" fill="#111111">I</text>
<text transform="matrix(0.1953 0 0 0.1620 344.08 82.84)" fill="#2f4bb0">R</text>
<text transform="matrix(0.2070 0 0 0.1621 344.79 95.83)" fill="#4dbb3a">S</text>
<text transform="matrix(0.1838 0 0 0.5431 357.77 69.49)" fill="#4dbb3a">G</text>
<text transform="matrix(0.2444 0 0 0.1620 356.88 82.84)" fill="#111111">F</text>
<text transform="matrix(0.1920 0 0 0.1668 357.24 95.99)" fill="#2f4bb0">K</text>
<text transform="matrix(0.1848 0 0 0.1377 371.19 41.6)" fill="#111111">A</text>
<text transform="matrix(0.1897 0 0 0.1889 370.87 57.58)" fill="#4dbb3a">C</text>
<text transform="matrix(0.1111 0 0 0.1458 376.31 69.46)" fill="#111111">I</text>
<text transform="matrix(0.1920 0 0 0.1620 370.37 82.84)" fill="#2f4bb0">K</text>
<text transform="matrix(0.1785 0 0 0.1283 370.92 93.46)" fill="#9b35ad">Q</text>
<text transform="matrix(0.2191 0 0 0.3645 383.31 57.2)" fill="#111111">P</text>
<text transform="matrix(0.1848 0 0 0.1539 384.32 70.02)" fill="#111111">A</text>
<text transform="matrix(0.1785 0 0 0.1245 384.05 80.39)" fill="#9b35ad">Q</text>
<text transform="matrix(0.2070 0 0 0.1621 384.18 95.83)" fill="#4dbb3a">S</text>
<text transform="matrix(0.2070 0 0 0.5431 397.31 69.49)" fill="#4dbb3a">S</text>
<text transform="matrix(0.1920 0 0 0.1620 396.63 82.84)" fill="#2f4bb0">K</text>
<text transform="matrix(0.1898 0 0 0.1668 397.78 95.99)" fill="#111111">V</text>
<text transform="matrix(0.1848 0 0 0.2997 410.58 52.75)" fill="#111111">A</text>
<text transform="matrix(0.1838 0 0 0.1259 410.29 63.21)" fill="#4dbb3a">G</text>
<text transform="matrix(0.1773 0 0 0.1296 409.85 73.92)" fill="#111111">M</text>
<text transform="matrix(0.1953 0 0 0.1458 409.73 85.07)" fill="#2f4bb0">R</text>
<text transform="matrix(0.2070 0 0 0.1306 410.44 95.86)" fill="#4dbb3a">S</text>
<text transform="matrix(0.2416 0 0 0.5265 422.55 67.79)" fill="#111111">L</text>
<text transform="matrix(0.1773 0 0 0.0972 422.98 76.71)" fill="#111111">M</text>
<text transform="matrix(0.2191 0 0 0.1134 422.7 86.74)" fill="#111111">P</text>
<text transform="matrix(0.1953 0 0 0.1102 422.86 95.99)" fill="#2f4bb0">R</text>
<text transform="matrix(0.2416 0 0 0.3402 435.68 54.98)" fill="#111111">L</text>
<text transform="matrix(0.1920 0 0 0.1053 436.02 63.33)" fill="#2f4bb0">K</text>
<text transform="matrix(0.1773 0 0 0.1053 436.11 71.69)" fill="#111111">M</text>
<text transform="matrix(0.2070 0 0 0.0944 436.7 79.4)" fill="#4dbb3a">S</text>
<text transform="matrix(0.1898 0 0 0.0972 437.17 87.85)" fill="#111111">V</text>
<text transform="matrix(0.1956 0 0 0.0940 436.97 95.99)" fill="#4dbb3a">Y</text>
<text transform="matrix(0.1920 0 0 0.4617 449.15 63.33)" fill="#2f4bb0">K</text>
<text transform="matrix(0.1848 0 0 0.1053 449.97 71.69)" fill="#111111">A</text>
<text transform="matrix(0.2022 0 0 0.1053 449.08 80.05)" fill="#cc2229">D</text>
<text transform="matrix(0.2416 0 0 0.0972 448.81 87.85)" fill="#111111">L</text>
<text transform="matrix(0.2070 0 0 0.0913 449.83 95.9)" fill="#4dbb3a">S</text>
<text transform="matrix(0.1848 0 0 0.2430 463.1 48.29)" fill="#111111">A</text>
<text transform="matrix(0.2416 0 0 0.1458 461.94 59.99)" fill="#111111">L</text>
<text transform="matrix(0.1773 0 0 0.1377 462.37 71.69)" fill="#111111">M</text>
<text transform="matrix(0.2070 0 0 0.1417 462.96 82.7)" fill="#4dbb3a">S</text>
<text transform="matrix(0.1920 0 0 0.0761 462.28 89.75)" fill="#2f4bb0">K</text>
<text transform="matrix(0.1785 0 0 0.0535 462.83 94.93)" fill="#9b35ad">Q</text>
<text transform="matrix(0.2109 0 0 0.2430 475.28 48.29)" fill="#9b35ad">N</text>
<text transform="matrix(0.2106 0 0 0.2430 476.45 67.79)" fill="#4dbb3a">T</text>
<text transform="matrix(0.2191 0 0 0.1134 475.22 77.26)" fill="#111111">P</text>
<text transform="matrix(0.2210 0 0 0.0454 475.21 82.06)" fill="#e8607a">E</text>
<text transform="matrix(0.1773 0 0 0.0518 475.5 86.96)" fill="#111111">M</text>
<text transform="matrix(0.2109 0 0 0.0518 475.28 91.42)" fill="#2f4bb0">H</text>
<text transform="matrix(0.1898 0 0 0.0583 476.56 96.54)" fill="#111111">V</text>
<text transform="matrix(0.1920 0 0 0.6399 488.54 75.59)" fill="#2f4bb0">K</text>
<text transform="matrix(0.1848 0 0 0.0405 489.36 79.49)" fill="#111111">A</text>
<text transform="matrix(0.2022 0 0 0.0389 488.47 82.84)" fill="#cc2229">D</text>
<text transform="matrix(0.2070 0 0 0.0394 489.22 86.25)" fill="#4dbb3a">S</text>
<text transform="matrix(0.2083 0 0 0.0616 493.13 91.75)" fill="#111111">I</text>
<text transform="matrix(0.1785 0 0 0.0299 489.09 96.07)" fill="#9b35ad">Q</text>
</g>
<g font-family="'Liberation Sans', Arial, sans-serif" font-size="9" fill="#1a1a1a" stroke="#1a1a1a" stroke-width="0.45">
<text transform="translate(252.2 113.2) rotate(-90) scale(1 1.36)" >625</text>
<text transform="translate(265.3 113.2) rotate(-90) scale(1 1.36)" >626</text>
<text transform="translate(278.4 113.2) rotate(-90) scale(1 1.36)" >627</text>
<text transform="translate(291.5 113.2) rotate(-90) scale(1 1.36)" >628</text>
<text transform="translate(304.6 113.2) rotate(-90) scale(1 1.36)" >629</text>
<text transform="translate(317.7 113.2) rotate(-90) scale(1 1.36)" >630</text>
<text transform="translate(330.8 113.2) rotate(-90) scale(1 1.36)" >631</text>
<text transform="translate(343.9 113.2) rotate(-90) scale(1 1.36)" >632</text>
<text transform="translate(357 113.2) rotate(-90) scale(1 1.36)" >633</text>
<text transform="translate(370.1 113.2) rotate(-90) scale(1 1.36)" >634</text>
<text transform="translate(383.2 113.2) rotate(-90) scale(1 1.36)" >635</text>
<text transform="translate(396.3 113.2) rotate(-90) scale(1 1.36)" >636</text>
<text transform="translate(409.4 113.2) rotate(-90) scale(1 1.36)" >637</text>
<text transform="translate(422.5 113.2) rotate(-90) scale(1 1.36)" >638</text>
<text transform="translate(435.6 113.2) rotate(-90) scale(1 1.36)" >639</text>
<text transform="translate(448.7 113.2) rotate(-90) scale(1 1.36)" >640</text>
<text transform="translate(461.8 113.2) rotate(-90) scale(1 1.36)" >641</text>
<text transform="translate(474.9 113.2) rotate(-90) scale(1 1.36)" >642</text>
<text transform="translate(488 113.2) rotate(-90) scale(1 1.36)" >643</text>
<text transform="translate(501.1 113.2) rotate(-90) scale(1 1.36)" >644</text>
</g>
<g font-family="'Liberation Sans', Arial, sans-serif" font-weight="bold" font-size="9.3" fill="#111" stroke="#111" stroke-width="0.3">
<text x="229.8" y="111.1">N</text><text x="506.5" y="111.1" font-size="8.6">C</text></g>
<g font-family="'Liberation Sans', Arial, sans-serif" font-weight="bold" font-size="10.2" fill="#e4713a" stroke="#e4713a" stroke-width="0.35" text-anchor="middle">
<text x="238.4" y="124.2" letter-spacing="1.4">461V</text>
<text x="275.6" y="124.2">Y</text>
<text x="287.8" y="124.2">E</text>
<text x="300" y="124.2">V</text>
<text x="312.4" y="124.2">L</text>
<text x="328" y="124.2">G</text>
<text x="342" y="124.2">R</text>
<text x="355" y="124.2">R</text>
<text x="367.2" y="124.2">A</text>
<text x="379.8" y="124.2">E</text>
<text x="392.2" y="124.2">R</text>
<text x="405.3" y="124.2">Q</text>
<text x="418.7" y="124.2">R</text>
<text x="431" y="124.2">P</text>
<text x="443.5" y="124.2">V</text>
<text x="459" y="124.2">A</text>
<text x="472.4" y="124.2">V</text>
<text x="484.7" y="124.2">E</text>
<text x="498" y="124.2">R</text>
<text x="516.2" y="124.2" letter-spacing="0.9">479</text>
</g></g>
<g id="panel-b"><rect x="659.8" y="176.3" width="16" height="83.1" fill="#dff3d9" stroke="#333" stroke-width="1.05"/>
<rect x="679.38" y="190.3" width="16" height="69.1" fill="#dff3d9" stroke="#333" stroke-width="1.05"/>
<rect x="698.96" y="231.2" width="16" height="28.2" fill="#dff3d9" stroke="#333" stroke-width="1.05"/>
<rect x="718.54" y="163.5" width="16" height="95.9" fill="#dff3d9" stroke="#333" stroke-width="1.05"/>
<rect x="738.12" y="154.3" width="16" height="105.1" fill="#dff3d9" stroke="#333" stroke-width="1.05"/>
<rect x="757.7" y="167.3" width="16" height="92.1" fill="#dff3d9" stroke="#333" stroke-width="1.05"/>
<rect x="777.28" y="190.3" width="16" height="69.1" fill="#dff3d9" stroke="#333" stroke-width="1.05"/>
<rect x="796.86" y="141.2" width="16" height="118.2" fill="#dff3d9" stroke="#333" stroke-width="1.05"/>
<rect x="816.44" y="231.3" width="16" height="28.1" fill="#dff3d9" stroke="#333" stroke-width="1.05"/>
<rect x="836.02" y="216.7" width="16" height="42.7" fill="#dff3d9" stroke="#333" stroke-width="1.05"/>
<rect x="855.6" y="86.3" width="16" height="173.1" fill="#dff3d9" stroke="#333" stroke-width="1.05"/>
<rect x="875.18" y="180.7" width="16" height="78.7" fill="#dff3d9" stroke="#333" stroke-width="1.05"/>
<rect x="894.76" y="181.2" width="16" height="78.2" fill="#dff3d9" stroke="#333" stroke-width="1.05"/>
<rect x="914.34" y="241.3" width="16" height="18.1" fill="#dff3d9" stroke="#333" stroke-width="1.05"/>
<rect x="933.92" y="228.3" width="16" height="31.1" fill="#dff3d9" stroke="#333" stroke-width="1.05"/>
<rect x="953.5" y="177.3" width="16" height="82.1" fill="#dff3d9" stroke="#333" stroke-width="1.05"/>
<path d="M667.8 168.8V183.8M664.8 168.8h6M664.8 183.8h6" stroke="#222" stroke-width="0.95" fill="none"/>
<path d="M687.38 174.9V205.7M684.38 174.9h6M684.38 205.7h6" stroke="#222" stroke-width="0.95" fill="none"/>
<path d="M706.96 226.2V236.2M703.96 226.2h6M703.96 236.2h6" stroke="#222" stroke-width="0.95" fill="none"/>
<path d="M726.54 154.8V172.2M723.54 154.8h6M723.54 172.2h6" stroke="#222" stroke-width="0.95" fill="none"/>
<path d="M746.12 152.3V156.3M743.12 152.3h6M743.12 156.3h6" stroke="#222" stroke-width="0.95" fill="none"/>
<path d="M765.7 162.6V172M762.7 162.6h6M762.7 172h6" stroke="#222" stroke-width="0.95" fill="none"/>
<path d="M785.28 184.5V196.1M782.28 184.5h6M782.28 196.1h6" stroke="#222" stroke-width="0.95" fill="none"/>
<path d="M804.86 140.8V141.6M801.86 140.8h6M801.86 141.6h6" stroke="#222" stroke-width="0.95" fill="none"/>
<path d="M824.44 220.4V242.2M821.44 220.4h6M821.44 242.2h6" stroke="#222" stroke-width="0.95" fill="none"/>
<path d="M844.02 208V225.4M841.02 208h6M841.02 225.4h6" stroke="#222" stroke-width="0.95" fill="none"/>
<path d="M863.6 56.6V116M860.6 56.6h6M860.6 116h6" stroke="#222" stroke-width="0.95" fill="none"/>
<path d="M883.18 174.2V187.2M880.18 174.2h6M880.18 187.2h6" stroke="#222" stroke-width="0.95" fill="none"/>
<path d="M902.76 168.5V193.9M899.76 168.5h6M899.76 193.9h6" stroke="#222" stroke-width="0.95" fill="none"/>
<path d="M922.34 239.1V243.5M919.34 239.1h6M919.34 243.5h6" stroke="#222" stroke-width="0.95" fill="none"/>
<path d="M941.92 226.5V230.1M938.92 226.5h6M938.92 230.1h6" stroke="#222" stroke-width="0.95" fill="none"/>
<path d="M961.5 172.6V182M958.5 172.6h6M958.5 182h6" stroke="#222" stroke-width="0.95" fill="none"/>
<path d="M647.8 11.7H981.2M648.3 11.7V264.4M643.3 259.4H981.2" stroke="#444" stroke-width="1" fill="none"/>
<path d="M643 259.4h5.3M645.3 238.75h3M643 218.1h5.3M645.3 197.45h3M643 176.8h5.3M645.3 156.15h3M643 135.5h5.3M645.3 114.85h3M643 94.2h5.3M645.3 73.55h3M643 52.9h5.3M645.3 32.25h3M643 11.6h5.3" stroke="#444" stroke-width="1" fill="none"/>
<path d="M667.8 259.4v5.3M687.38 259.4v5.3M706.96 259.4v5.3M726.54 259.4v5.3M746.12 259.4v5.3M765.7 259.4v5.3M785.28 259.4v5.3M804.86 259.4v5.3M824.44 259.4v5.3M844.02 259.4v5.3M863.6 259.4v5.3M883.18 259.4v5.3M902.76 259.4v5.3M922.34 259.4v5.3M941.92 259.4v5.3M961.5 259.4v5.3M981.2 259.4v5.3" stroke="#555" stroke-width="1.15" fill="none"/>
<path d="M981.2 11.2V259.9M981.2 259.05h3.2M981.2 241.4h6M981.2 223.75h3.2M981.2 206.1h6M981.2 188.45h3.2M981.2 170.8h6M981.2 153.15h3.2M981.2 135.5h6M981.2 117.85h3.2M981.2 100.2h6M981.2 82.55h3.2M981.2 64.9h6M981.2 47.25h3.2M981.2 29.6h6M981.2 11.95h3.2M981.2 11.7h3.2" stroke="#5570c0" stroke-width="1.1" fill="none"/>
<path d="M667.8 61.5V67.9M665.1 61.5h5.4M665.1 67.9h5.4" stroke="#93a4d6" stroke-width="0.9" fill="none"/>
<path d="M706.96 98.3V104.7M704.26 98.3h5.4M704.26 104.7h5.4" stroke="#93a4d6" stroke-width="0.9" fill="none"/>
<path d="M746.12 61.5V67.9M743.42 61.5h5.4M743.42 67.9h5.4" stroke="#93a4d6" stroke-width="0.9" fill="none"/>
<path d="M804.86 64.2V75.8M802.16 64.2h5.4M802.16 75.8h5.4" stroke="#93a4d6" stroke-width="0.9" fill="none"/>
<path d="M883.18 125.6V235.6M880.48 125.6h5.4M880.48 235.6h5.4" stroke="#93a4d6" stroke-width="0.9" fill="none"/>
<path d="M902.76 192.2V217.2M900.06 192.2h5.4M900.06 217.2h5.4" stroke="#93a4d6" stroke-width="0.9" fill="none"/>
<path d="M941.92 92.7V127.3M939.22 92.7h5.4M939.22 127.3h5.4" stroke="#93a4d6" stroke-width="0.9" fill="none"/>
<path d="M961.5 40V72.6M958.8 40h5.4M958.8 72.6h5.4" stroke="#93a4d6" stroke-width="0.9" fill="none"/>
<path d="M667.8 64.7 L687.38 64 L706.96 101.5 L726.54 68.3 L746.12 64.7 L765.7 64 L785.28 115 L804.86 70 L824.44 98 L844.02 79.7 L863.6 118.3 L883.18 180.6 L902.76 204.7 L922.34 143.3 L941.92 110 L961.5 56.3" stroke="#3d5bb3" stroke-width="1.1" fill="none"/>
<rect x="665.5" y="62.4" width="4.6" height="4.6" fill="#2f4db4"/>
<rect x="685.08" y="61.7" width="4.6" height="4.6" fill="#2f4db4"/>
<rect x="704.66" y="99.2" width="4.6" height="4.6" fill="#2f4db4"/>
<rect x="724.24" y="66" width="4.6" height="4.6" fill="#2f4db4"/>
<rect x="743.82" y="62.4" width="4.6" height="4.6" fill="#2f4db4"/>
<rect x="763.4" y="61.7" width="4.6" height="4.6" fill="#2f4db4"/>
<rect x="782.98" y="112.7" width="4.6" height="4.6" fill="#2f4db4"/>
<rect x="802.56" y="67.7" width="4.6" height="4.6" fill="#2f4db4"/>
<rect x="822.14" y="95.7" width="4.6" height="4.6" fill="#2f4db4"/>
<rect x="841.72" y="77.4" width="4.6" height="4.6" fill="#2f4db4"/>
<rect x="861.3" y="116" width="4.6" height="4.6" fill="#2f4db4"/>
<rect x="880.88" y="178.3" width="4.6" height="4.6" fill="#2f4db4"/>
<rect x="900.46" y="202.4" width="4.6" height="4.6" fill="#2f4db4"/>
<rect x="920.04" y="141" width="4.6" height="4.6" fill="#2f4db4"/>
<rect x="939.62" y="107.7" width="4.6" height="4.6" fill="#2f4db4"/>
<rect x="959.2" y="54" width="4.6" height="4.6" fill="#2f4db4"/>
<g font-family="'Liberation Sans', Arial, sans-serif" font-size="16.3" fill="#333" text-anchor="end">
<text x="635.6" y="265.2">0</text>
<text x="635.6" y="223.9">50</text>
<text x="635.6" y="182.6">100</text>
<text x="635.6" y="141.3">150</text>
<text x="635.6" y="100">200</text>
<text x="635.6" y="58.7">250</text>
<text x="635.6" y="17.4">300</text>
</g>
<g font-family="'Liberation Sans', Arial, sans-serif" font-size="16.3" fill="#4560b8">
<text x="993.2" y="247.1">0</text>
<text x="993.2" y="211.8">20</text>
<text x="993.2" y="176.5">40</text>
<text x="993.2" y="141.2">60</text>
<text x="993.2" y="105.9">80</text>
<text x="993.2" y="70.6">100</text>
<text x="993.2" y="35.3">120</text>
</g>
<text transform="translate(593 135.5) rotate(-90)" font-family="'Liberation Sans', Arial, sans-serif" font-size="17.1" fill="#222" text-anchor="middle">Relative residue activity (%)</text>
<text transform="translate(1041.5 133.5) rotate(-90)" font-family="'Liberation Sans', Arial, sans-serif" font-size="17.1" fill="#4560b8" text-anchor="middle">Relative activity (%)</text>
<g font-family="'Liberation Sans', Arial, sans-serif" font-size="14.3" fill="#2a2a2a" stroke="#2a2a2a" stroke-width="0.15" text-anchor="end">
<text transform="translate(675.2 274.8) rotate(-45)">control</text>
<text transform="translate(694.78 274.8) rotate(-45)">V475L</text>
<text transform="translate(714.36 274.8) rotate(-45)">V474L</text>
<text transform="translate(733.94 274.8) rotate(-45)">E470A</text>
<text transform="translate(753.52 274.8) rotate(-45)">R479K</text>
<text transform="translate(773.1 274.8) rotate(-45)">E478N</text>
<text transform="translate(792.68 274.8) rotate(-45)">A476K</text>
<text transform="translate(812.26 274.8) rotate(-45)">G466N</text>
<text transform="translate(831.84 274.8) rotate(-45)">E463R</text>
<text transform="translate(851.42 274.8) rotate(-45)">V461M</text>
<text transform="translate(871 274.8) rotate(-45)">A469G</text>
<text transform="translate(890.58 274.8) rotate(-45)">E478T</text>
<text transform="translate(910.16 274.8) rotate(-45)">Y462S</text>
<text transform="translate(929.74 274.8) rotate(-45)">V477A</text>
<text transform="translate(949.32 274.8) rotate(-45)">V477L</text>
<text transform="translate(968.9 274.8) rotate(-45)">R473A</text>
</g></g>
<g id="panel-c"><g font-family="'DejaVu Sans Condensed', 'DejaVu Sans', 'Liberation Sans', sans-serif" font-size="13.8" fill="#1d1d1d" text-anchor="middle">
<path d="M201.5 382L226.6 452.5" stroke="#5fc040" stroke-width="2.2" stroke-dasharray="4.6 3.6" fill="none" opacity="1"/>
<path d="M143 432L224 455.8" stroke="#5fc040" stroke-width="2.2" stroke-dasharray="4.6 3.6" fill="none" opacity="1"/>
<path d="M334.5 432.5L288.5 485.5" stroke="#5fc040" stroke-width="2.2" stroke-dasharray="4.6 3.6" fill="none" opacity="1"/>
<circle cx="255.7" cy="505.9" r="11.5" fill="url(#bl)"/>
<path d="M224.7 489.5V473M231.3 488.5V473" stroke="#8a8a8a" stroke-width="1.05" fill="none"/>
<path d="M224.7 473V461.5M231.3 473V461.5" stroke="#e0405a" stroke-width="1.05" fill="none"/>
<path d="M212.5 498.5L228 489.2L255.7 505.7L270.4 497.7" stroke="#8a8a8a" stroke-width="1.05" fill="none"/>
<path d="M270.4 497.7L280.6 492M288.5 492.3L299.8 498.5" stroke="#8f8fd0" stroke-width="1.05" fill="none"/>
<text x="227.9" y="461.6" font-family="'Liberation Sans', Arial, sans-serif" font-size="11.5" fill="#e0304a">O</text>
<text x="284.6" y="494.3" font-family="'Liberation Sans', Arial, sans-serif" font-size="11.5" fill="#7d7dcc">N</text>
<circle cx="193.2" cy="359.5" r="21.4" fill="url(#gd)"/><text x="193.2" y="356.9">GLU</text><text x="193.2" y="370.4">B:470</text>
<circle cx="287.1" cy="350.7" r="21.4" fill="url(#gl)"/><text x="287.1" y="348.1">ARG</text><text x="287.1" y="361.6">B:467</text>
<circle cx="119.8" cy="424.6" r="21.4" fill="url(#gd)"/><text x="119.8" y="422">ALA</text><text x="119.8" y="435.5">B:469</text>
<circle cx="180.2" cy="424.2" r="21.4" fill="url(#gl)"/><text x="180.2" y="421.6">LEU</text><text x="180.2" y="435.1">B:465</text>
<circle cx="349.8" cy="415.8" r="21.4" fill="url(#gd)"/><text x="349.8" y="413.2">TYR</text><text x="349.8" y="426.7">B:462</text>
<circle cx="377.5" cy="502.5" r="21.4" fill="url(#gl)"/><text x="377.5" y="499.9">VAL</text><text x="377.5" y="513.4">B:464</text>
<circle cx="188.6" cy="568.7" r="21.4" fill="url(#gl)"/><text x="188.6" y="566.1">ARG</text><text x="188.6" y="579.6">B:468</text>
<circle cx="321" cy="574.4" r="21.4" fill="url(#gl)"/><text x="321" y="571.8">GLU</text><text x="321" y="585.3">B:463</text>
<circle cx="199.2" cy="505.2" r="13.3" fill="#c3a5dc" stroke="#2a2a2a" stroke-width="0.9"/><g font-size="8.4" stroke="#1d1d1d" stroke-width="0.2"><text x="199.2" y="504.5">ARG</text><text x="199.2" y="512.5">B:467</text></g>
<circle cx="313.1" cy="505.4" r="13.3" fill="#c3a5dc" stroke="#2a2a2a" stroke-width="0.9"/><g font-size="8.4" stroke="#1d1d1d" stroke-width="0.2"><text x="313.1" y="504.7">LEU</text><text x="313.1" y="512.7">B:465</text></g>
<path d="M143 432L224 455.8" stroke="#5fc040" stroke-width="2.2" stroke-dasharray="4.6 3.6" fill="none" opacity="0.25"/>
</g>
<g font-family="'Liberation Sans', Arial, sans-serif" font-size="16.9" fill="#222">
<text x="129.5" y="612">Interactions</text>
<rect x="131.3" y="621.7" width="32" height="17.6" fill="#98d98e" stroke="#777" stroke-width="1"/>
<text x="170" y="635.3">Van der waals</text>
<rect x="288.3" y="621.7" width="32.3" height="17.6" fill="#c5a5de" stroke="#777" stroke-width="1"/>
<text x="326.7" y="635.3">Covalent bond</text>
<rect x="131.3" y="644.3" width="32" height="17.6" fill="#5bbf35" stroke="#666" stroke-width="1"/>
<text x="170" y="656.8">Conventional hydrogen bond</text>
</g></g>
<g id="panel-d"><g font-family="'DejaVu Sans Condensed', 'DejaVu Sans', 'Liberation Sans', sans-serif" font-size="13.8" fill="#1d1d1d" text-anchor="middle">
<circle cx="687.9" cy="501.6" r="27" fill="url(#halo)"/>
<circle cx="784.5" cy="521.9" r="29" fill="url(#halo)"/>
<path d="M854.5 402.6L927 408.5" stroke="#5fc040" stroke-width="2.5" stroke-dasharray="4 3.4" fill="none" opacity="1"/>
<path d="M851.7 406.7L882 477" stroke="#5fc040" stroke-width="2.5" stroke-dasharray="4 3.4" fill="none" opacity="1"/>
<path d="M779.2 447.5L784 500" stroke="#5fc040" stroke-width="2.5" stroke-dasharray="4 3.4" fill="none" opacity="1"/>
<circle cx="707" cy="385.8" r="14.5" fill="url(#bl)"/>
<circle cx="734.7" cy="435.8" r="14.5" fill="url(#bl)"/>
<circle cx="763.7" cy="385.3" r="7.5" fill="url(#bl)"/>
<path d="M721.7 394.2L735 401.7L763.7 385.8L792.5 401.3L821.7 385V375.8M792.5 401.3V416.7M732 401.5V418.3M738.3 400.5V418.3M822.5 383.3L836 390.5M819.2 387.5L832.5 395M781.7 440.8L788.3 437.5" stroke="#8a8a8a" stroke-width="1.05" fill="none"/>
<path d="M710.8 388.3L721.7 394.2M792.5 416.7V430.8M795.8 437.5L808.3 443.3M821.7 375.8V366.7" stroke="#8f8fd0" stroke-width="1.05" fill="none"/>
<path d="M732 418.3V430M738.3 418.3V430M836 390.5L847.5 396.7M832.5 395L844.2 402" stroke="#e0405a" stroke-width="1.05" fill="none"/>
<g font-family="'Liberation Sans', Arial, sans-serif" font-size="11">
<text x="707" y="389.8" fill="#8a8ad4">N</text><text x="734.7" y="439.8" fill="#e0304a">O</text><text x="849.4" y="407" fill="#e0304a">O</text><text x="792" y="439.8" fill="#7d7dcc">N</text><text x="777.8" y="446.9" fill="#333" font-size="10" font-weight="bold">H</text></g>
<circle cx="821.3" cy="352.7" r="13.3" fill="#c3a5dc" stroke="#2a2a2a" stroke-width="0.9"/><g font-size="8.4" stroke="#1d1d1d" stroke-width="0.2"><text x="821.3" y="352">ARG</text><text x="821.3" y="360">B:467</text></g>
<circle cx="820.9" cy="451.3" r="13.3" fill="#c3a5dc" stroke="#2a2a2a" stroke-width="0.9"/><g font-size="8.4" stroke="#1d1d1d" stroke-width="0.2"><text x="820.9" y="450.6">LEU</text><text x="820.9" y="458.6">B:465</text></g>
<circle cx="929.3" cy="408.2" r="21.3" fill="url(#gd)"/><text x="929.3" y="405.6">GLU</text><text x="929.3" y="419.1">B:470</text>
<circle cx="940.8" cy="469.1" r="21.4" fill="url(#gl)"/><text x="940.8" y="466.5">ARG</text><text x="940.8" y="480">B:468</text>
<circle cx="890.7" cy="497.5" r="21.4" fill="url(#gd)"/><text x="890.7" y="494.9">ALA</text><text x="890.7" y="508.4">B:469</text>
<circle cx="840.1" cy="483.5" r="21.4" fill="url(#gl)"/><text x="840.1" y="480.9">LEU</text><text x="840.1" y="494.4">B:465</text>
<circle cx="784.5" cy="521.9" r="21.4" fill="url(#gd)"/><text x="784.5" y="519.3">TYR</text><text x="784.5" y="532.8">B:462</text>
<circle cx="843.2" cy="563" r="21.4" fill="url(#gl)"/><text x="843.2" y="560.4">ARG</text><text x="843.2" y="573.9">B:467</text>
<circle cx="734.8" cy="571.8" r="21.4" fill="url(#gl)"/><text x="734.8" y="569.2">VAL</text><text x="734.8" y="582.7">B:464</text>
<circle cx="687.9" cy="501.6" r="21.4" fill="url(#gl)"/><text x="687.9" y="499">GLU</text><text x="687.9" y="512.5">B:463</text>
<circle cx="605.5" cy="462.2" r="21.4" fill="url(#gl)"/><text x="605.5" y="459.6">TYR</text><text x="605.5" y="473.1">B:458</text>
</g></g>
<g font-family="'Liberation Sans', Arial, sans-serif" font-weight="bold" font-size="20.3" fill="#1a1a1a"><text x="14.8" y="17.5" letter-spacing="0.2">(a)</text><text transform="translate(574.2 16.7) scale(1 0.84)">(b)</text><text x="14.8" y="353.3" letter-spacing="0.2">(c)</text><text x="574.2" y="352.9">(d)</text></g>
</g></svg></body></html>
